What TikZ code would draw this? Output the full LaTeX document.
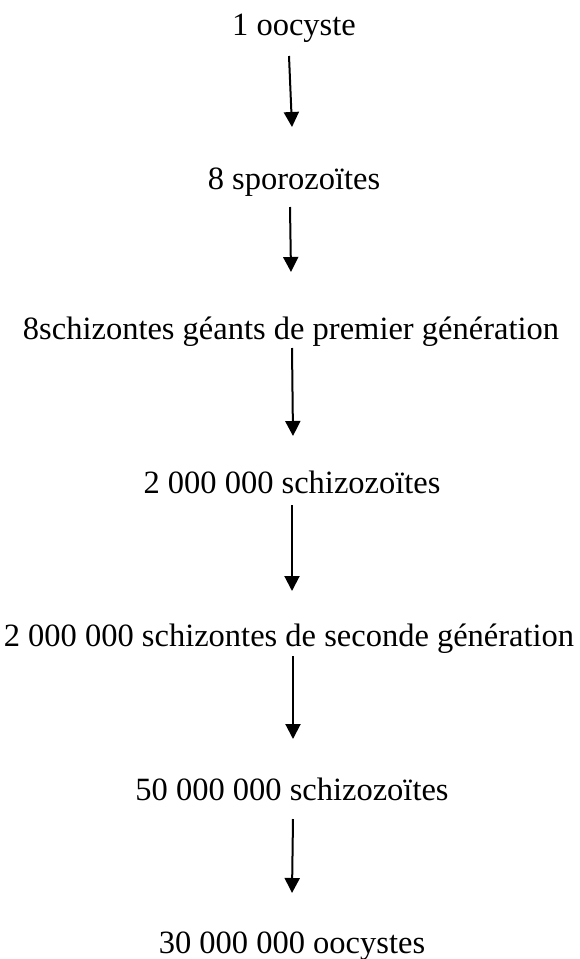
\documentclass[tikz,border=0pt]{standalone}
\usepackage{fontspec}
\setmainfont{Liberation Serif}
\usetikzlibrary{arrows.meta}
\begin{document}
\begin{tikzpicture}[x=0.5pt,y=-0.5pt,
  lbl/.style={anchor=base,inner sep=0pt,font=\fontsize{16.25}{19}\selectfont},
  arr/.style={-{Triangle[length=7.5pt,width=7.5pt]},line width=1pt}]
\useasboundingbox (0,0) rectangle (579,959);
\node[lbl] (t1) at (294,35) {1 oocyste};
\node[lbl] (t2) at (294,189) {8 sporozoïtes};
\node[lbl] (t3) at (291,339) {8schizontes géants de premier génération};
\node[lbl] (t4) at (292,493) {2 000 000 schizozoïtes};
\node[lbl] (t5) at (289,646) {2 000 000 schizontes de seconde génération};
\node[lbl] (t6) at (292,800) {50 000 000 schizozoïtes};
\node[lbl] (t7) at (292,953) {30 000 000 oocystes};
\coordinate (a1s) at (289,56);  \coordinate (a1e) at (292,127);
\coordinate (a2s) at (290,207); \coordinate (a2e) at (291,272);
\coordinate (a3s) at (292,348); \coordinate (a3e) at (293,436);
\coordinate (a4s) at (292,505); \coordinate (a4e) at (292,591);
\coordinate (a5s) at (293,656); \coordinate (a5e) at (293,739);
\coordinate (a6s) at (293,819); \coordinate (a6e) at (292,893);
\draw[arr] (a1s) -- (a1e);
\draw[arr] (a2s) -- (a2e);
\draw[arr] (a3s) -- (a3e);
\draw[arr] (a4s) -- (a4e);
\draw[arr] (a5s) -- (a5e);
\draw[arr] (a6s) -- (a6e);
\end{tikzpicture}
\end{document}
